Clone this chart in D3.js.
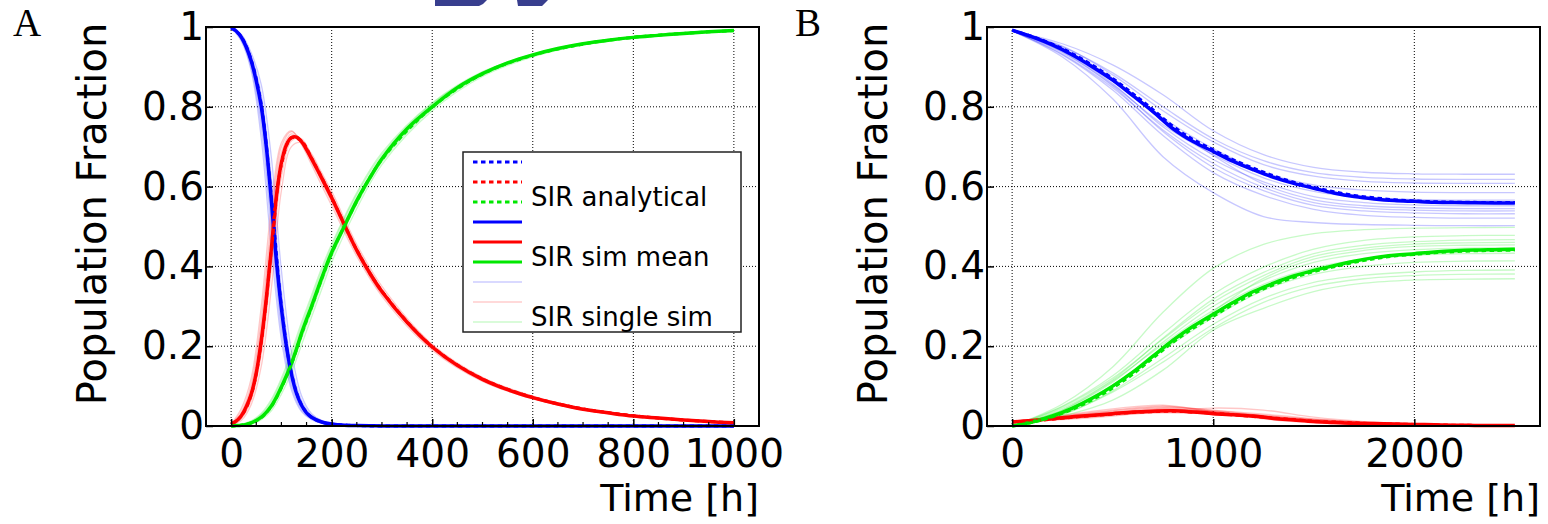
<!DOCTYPE html>
<html lang="en">
<head>
  <meta charset="UTF-8">
  <title>SIR analytical vs simulation</title>
  <script src="https://d3js.org/d3.v7.min.js"></script>
  <style>
    body { margin: 0; background: #fff; }
    svg { display: block; }
    .tick text { font-family: 'DejaVu Sans', sans-serif; font-size: 39px; fill: #000; }
    .tick line { stroke: #000; stroke-width: 1.5; }
    .grid line { stroke: #000; stroke-width: 1; stroke-dasharray: 1,2; }
    .axis-label { font-family: 'DejaVu Sans', sans-serif; font-size: 38px; fill: #000; }
    .y-label { font-size: 40px; }
    .panel-tag { font-family: 'Liberation Serif', serif; font-size: 39px; fill: #000; }
    .legend text { font-family: 'DejaVu Sans', sans-serif; font-size: 26px; fill: #000; }
  </style>
</head>
<body>
<svg id="chart" width="1548" height="524"></svg>
<script>
  // ---- panel A data (time in h, population fraction) ----
  const timeA = [0,10,20,30,40,50,60,70,80,90,100,110,120,130,140,150,160,180,200,225,250,275,300,350,400,450,500,550,600,650,700,750,800,850,900,950,1000];
  const sMeanA = [.998,.99,.975,.95,.915,.865,.80,.70,.565,.415,.295,.20,.13,.082,.052,.033,.022,.010,.005,.002,.001,.0005,0,0,0,0,0,0,0,0,0,0,0,0,0,0,0];
  const iMeanA = [.005,.012,.025,.048,.08,.133,.215,.32,.444,.575,.66,.705,.723,.724,.713,.693,.67,.622,.572,.505,.44,.385,.337,.26,.198,.152,.117,.091,.071,.055,.042,.033,.025,.02,.015,.011,.008];
  const rMeanA = [0,.001,.002,.004,.008,.014,.022,.034,.05,.072,.098,.126,.157,.193,.232,.267,.30,.37,.435,.50,.565,.62,.67,.745,.80,.848,.883,.91,.93,.946,.958,.967,.974,.979,.984,.988,.991];

  const simTimeA = [0,20,40,60,80,100,120,140,160,180,200,250,300,400,500,600,700,800,900,1000];
  const sAnaA = [.998,.976,.917,.805,.575,.30,.132,.053,.022,.010,.005,.001,0,0,0,0,0,0,0,0];
  const iAnaA = [.005,.024,.078,.21,.44,.655,.722,.714,.671,.623,.573,.441,.338,.199,.118,.072,.043,.026,.015,.008];
  const rAnaA = [0,.002,.008,.021,.049,.096,.155,.23,.298,.368,.433,.563,.668,.799,.882,.929,.957,.974,.984,.991];

  const sSimsA = [
    [.998,.965,.89,.72,.445,.217,.09,.036,.016,.007,.003,.001,0,0,0,0,0,0,0,0],
    [.998,.982,.935,.855,.673,.39,.186,.076,.031,.014,.007,.002,0,0,0,0,0,0,0,0],
    [.998,.972,.905,.77,.52,.26,.11,.044,.019,.009,.004,.001,0,0,0,0,0,0,0,0],
    [.998,.979,.926,.83,.62,.34,.155,.064,.027,.012,.006,.002,0,0,0,0,0,0,0,0],
    [.998,.969,.898,.75,.49,.24,.10,.04,.018,.008,.004,.001,0,0,0,0,0,0,0,0]
  ];
  const iSimsA = [
    [.005,.043,.12,.30,.55,.71,.74,.705,.655,.603,.552,.425,.325,.19,.112,.068,.04,.024,.014,.008],
    [.005,.014,.054,.15,.345,.59,.70,.71,.682,.635,.588,.455,.35,.205,.122,.075,.045,.027,.016,.009],
    [.005,.03,.095,.25,.49,.685,.732,.712,.664,.615,.566,.435,.332,.20,.12,.07,.041,.026,.015,.008],
    [.005,.019,.065,.18,.395,.625,.715,.72,.678,.63,.58,.448,.342,.194,.114,.073,.043,.025,.016,.009],
    [.005,.035,.105,.27,.515,.70,.738,.712,.662,.612,.56,.432,.33,.198,.119,.069,.041,.024,.014,.008]
  ];
  const rSimsA = [
    [0,.004,.013,.032,.067,.12,.186,.26,.328,.396,.456,.585,.685,.81,.888,.932,.96,.976,.986,.992],
    [0,.001,.005,.016,.038,.08,.134,.203,.273,.342,.41,.545,.655,.79,.876,.925,.955,.973,.984,.991],
    [0,.002,.009,.026,.057,.106,.168,.243,.312,.38,.443,.572,.674,.806,.885,.93,.958,.976,.985,.992],
    [0,.002,.006,.019,.044,.089,.146,.218,.286,.356,.422,.555,.662,.795,.88,.928,.957,.975,.985,.991],
    [0,.003,.011,.029,.062,.113,.177,.251,.32,.388,.45,.58,.68,.808,.886,.931,.959,.976,.986,.992]
  ];

  // ---- panel B data ----
  const timeB = [0,100,200,300,400,500,600,700,800,900,1000,1100,1200,1300,1400,1500,1600,1700,1800,1900,2000,2100,2200,2300,2400,2500];
  const sMeanB = [.992,.975,.955,.93,.90,.867,.828,.788,.745,.713,.688,.663,.642,.623,.608,.596,.584,.575,.569,.565,.563,.561,.560,.5595,.559,.559];
  const iMeanB = [.010,.014,.018,.023,.027,.031,.035,.037,.038,.035,.031,.028,.025,.019,.015,.011,.009,.007,.006,.005,.004,.003,.002,.0015,.001,.001];
  const rMeanB = [0,.010,.025,.045,.07,.10,.135,.175,.215,.25,.28,.31,.337,.358,.376,.39,.402,.413,.422,.428,.432,.436,.439,.441,.442,.443];
  const sAnaB = [.992,.976,.957,.933,.904,.871,.833,.793,.751,.718,.692,.667,.646,.627,.611,.598,.587,.578,.572,.567,.564,.562,.561,.5605,.560,.560];
  const iAnaB = [.010,.013,.017,.022,.026,.030,.034,.036,.037,.035,.032,.028,.024,.020,.016,.012,.010,.008,.006,.005,.004,.003,.002,.0015,.001,.001];
  const rAnaB = [0,.009,.023,.042,.066,.095,.13,.17,.21,.245,.275,.305,.332,.354,.372,.387,.399,.41,.419,.426,.43,.434,.437,.439,.44,.441];

  const simTimeB = [0,250,500,750,1000,1250,1500,1750,2000,2250,2500];
  const sSimsB = [
    [.99,.958,.905,.83,.74,.68,.648,.636,.632,.631,.631],
    [.99,.95,.885,.80,.72,.665,.635,.623,.619,.618,.618],
    [.99,.952,.88,.79,.712,.655,.626,.613,.609,.608,.608],
    [.99,.944,.865,.772,.695,.636,.604,.591,.586,.585,.585],
    [.99,.938,.855,.755,.68,.622,.588,.573,.568,.566,.566],
    [.99,.94,.858,.75,.668,.612,.575,.56,.554,.552,.552],
    [.99,.946,.872,.768,.678,.606,.567,.552,.547,.545,.545],
    [.99,.932,.848,.742,.658,.598,.56,.546,.541,.539,.539],
    [.99,.936,.852,.738,.648,.59,.553,.539,.534,.532,.532],
    [.99,.93,.842,.728,.635,.578,.543,.528,.523,.521,.521],
    [.99,.925,.82,.675,.585,.525,.51,.505,.503,.502,.502]
  ];
  const iSimsB = [
    [.01,.017,.03,.042,.036,.026,.015,.008,.004,.002,.001],
    [.01,.021,.033,.044,.034,.022,.012,.006,.003,.001,0],
    [.01,.019,.028,.036,.038,.03,.018,.009,.004,.002,.001],
    [.01,.023,.036,.046,.04,.025,.013,.006,.003,.001,0],
    [.01,.018,.027,.033,.03,.024,.016,.01,.005,.002,.001],
    [.01,.022,.034,.04,.033,.02,.01,.005,.002,.001,0],
    [.01,.016,.025,.037,.045,.04,.022,.011,.005,.002,.001],
    [.01,.024,.038,.048,.036,.021,.011,.005,.002,.001,0],
    [.01,.02,.032,.041,.035,.027,.017,.009,.004,.002,.001],
    [.01,.025,.04,.05,.038,.022,.01,.004,.002,.001,0],
    [.01,.027,.043,.052,.035,.018,.008,.003,.001,0,0]
  ];
  const rSimsB = [
    [0,.025,.065,.14,.24,.295,.337,.358,.366,.368,.369],
    [0,.03,.085,.16,.245,.31,.35,.369,.377,.38,.381],
    [0,.028,.088,.17,.255,.32,.36,.378,.386,.39,.391],
    [0,.035,.103,.19,.272,.34,.38,.4,.41,.413,.414],
    [0,.04,.113,.205,.29,.355,.396,.418,.428,.432,.433],
    [0,.04,.11,.21,.3,.365,.41,.432,.442,.446,.447],
    [0,.034,.098,.192,.287,.37,.418,.44,.45,.453,.454],
    [0,.048,.12,.218,.31,.377,.425,.446,.456,.459,.46],
    [0,.044,.116,.22,.318,.385,.432,.453,.462,.466,.467],
    [0,.05,.126,.232,.33,.398,.443,.465,.474,.477,.478],
    [0,.055,.148,.285,.395,.455,.482,.492,.496,.497,.498]
  ];

  const xTicksA = [0,200,400,600,800,1000];
  const xMinorA = [50,100,150,250,300,350,450,500,550,650,700,750,850,900,950];
  const xTicksB = [0,1000,2000];
  const yTicks = [0,0.2,0.4,0.6,0.8,1];
  const legendLabels = ["SIR analytical", "SIR sim mean", "SIR single sim"];

  const colors = ["#0000ff", "#ff0000", "#00e800"];
  const plotTop = 27, plotBottom = 426;

  const svg = d3.select("#chart");

  // cropped remains of a heading above panel A
  svg.append("path").attr("fill", "#383e8e")
    .attr("d", "M435,0 L487,0 L483,4 L479,6 L435,6 Z M517,0 L548,0 L542,6 L518,6 Z");

  const panels = [
    { tag: "A", tagX: 13, labelX: 106, xDomain: [-50, 1050], xRange: [206, 759],
      xTicks: xTicksA, xMinor: xMinorA,
      time: timeA, means: [sMeanA, iMeanA, rMeanA],
      anaTime: simTimeA, analytical: [sAnaA, iAnaA, rAnaA],
      simTime: simTimeA, sims: [sSimsA, iSimsA, rSimsA], legend: true },
    { tag: "B", tagX: 795, labelX: 887, xDomain: [-125, 2625], xRange: [987, 1540],
      xTicks: xTicksB, xMinor: [],
      time: timeB, means: [sMeanB, iMeanB, rMeanB],
      anaTime: timeB, analytical: [sAnaB, iAnaB, rAnaB],
      simTime: simTimeB, sims: [sSimsB, iSimsB, rSimsB], legend: false }
  ];

  panels.forEach(p => {
    const x = d3.scaleLinear().domain(p.xDomain).range(p.xRange);
    const y = d3.scaleLinear().domain([0, 1]).range([plotBottom, plotTop]);
    const g = svg.append("g");

    // dotted grid
    const grid = g.append("g").attr("class", "grid");
    grid.selectAll(".gx").data(p.xTicks).enter().append("line")
      .attr("x1", d => x(d)).attr("x2", d => x(d))
      .attr("y1", plotTop).attr("y2", plotBottom);
    grid.selectAll(".gy").data([0.2, 0.4, 0.6, 0.8]).enter().append("line")
      .attr("x1", p.xRange[0]).attr("x2", p.xRange[1])
      .attr("y1", d => y(d)).attr("y2", d => y(d));

    const line = t => d3.line()
      .x((d, i) => x(t[i]))
      .y(d => y(d))
      .curve(d3.curveCatmullRom.alpha(0.5));

    // single simulations (faint)
    p.sims.forEach((set, k) => {
      set.forEach(vals => {
        g.append("path").datum(vals)
          .attr("d", line(p.simTime))
          .attr("fill", "none")
          .attr("stroke", colors[k])
          .attr("stroke-opacity", 0.22)
          .attr("stroke-width", 1.3);
      });
    });

    // simulation means
    p.means.forEach((vals, k) => {
      g.append("path").datum(vals)
        .attr("d", line(p.time))
        .attr("fill", "none")
        .attr("stroke", colors[k])
        .attr("stroke-width", 3.5);
    });

    // analytical solution (dotted)
    p.analytical.forEach((vals, k) => {
      g.append("path").datum(vals)
        .attr("d", line(p.anaTime))
        .attr("fill", "none")
        .attr("stroke", colors[k])
        .attr("stroke-width", 3)
        .attr("stroke-dasharray", "4.5,3.5");
    });

    // frame
    g.append("rect")
      .attr("x", p.xRange[0]).attr("y", plotTop)
      .attr("width", p.xRange[1] - p.xRange[0]).attr("height", plotBottom - plotTop)
      .attr("fill", "none").attr("stroke", "#000").attr("stroke-width", 2);

    // axes, ticks pointing inward
    const xAxis = g.append("g")
      .attr("transform", `translate(0,${plotBottom})`)
      .call(d3.axisBottom(x).tickValues(p.xTicks).tickFormat(d => String(d))
        .tickSizeInner(-7).tickSizeOuter(0).tickPadding(13));
    xAxis.select(".domain").remove();

    g.append("g").selectAll("line").data(p.xMinor).enter().append("line")
      .attr("x1", d => x(d)).attr("x2", d => x(d))
      .attr("y1", plotBottom).attr("y2", plotBottom - 4)
      .attr("stroke", "#000").attr("stroke-width", 1.2);

    const yAxis = g.append("g")
      .attr("transform", `translate(${p.xRange[0]},0)`)
      .call(d3.axisLeft(y).tickValues(yTicks).tickFormat(d => String(d))
        .tickSizeInner(-7).tickSizeOuter(0).tickPadding(2));
    yAxis.select(".domain").remove();

    g.append("text").attr("class", "axis-label")
      .attr("x", p.xRange[1]).attr("y", 511)
      .attr("text-anchor", "end")
      .text("Time [h]");

    g.append("text").attr("class", "axis-label y-label")
      .attr("transform", `translate(${p.labelX},214) rotate(-90)`)
      .attr("text-anchor", "middle")
      .text("Population Fraction");

    g.append("text").attr("class", "panel-tag")
      .attr("x", p.tagX).attr("y", 36)
      .text(p.tag);

    if (p.legend) {
      const lg = g.append("g").attr("class", "legend");
      lg.append("rect")
        .attr("x", 463).attr("y", 152).attr("width", 278).attr("height", 180)
        .attr("fill", "#fff").attr("stroke", "#222").attr("stroke-width", 1.5);
      const styles = [
        { w: 3, dash: "4.5,3.5", op: 1 },
        { w: 3, dash: null, op: 1 },
        { w: 1.3, dash: null, op: 0.2 }
      ];
      styles.forEach((s, gi) => {
        colors.forEach((c, ci) => {
          const ry = 162 + 20 * (gi * 3 + ci);
          lg.append("line")
            .attr("x1", 473).attr("x2", 522).attr("y1", ry).attr("y2", ry)
            .attr("stroke", c).attr("stroke-width", s.w)
            .attr("stroke-opacity", s.op)
            .attr("stroke-dasharray", s.dash);
        });
        lg.append("text")
          .attr("x", 531).attr("y", 162 + 20 * (gi * 3 + 2) + 3.5)
          .text(legendLabels[gi]);
      });
    }
  });
</script>
</body>
</html>
